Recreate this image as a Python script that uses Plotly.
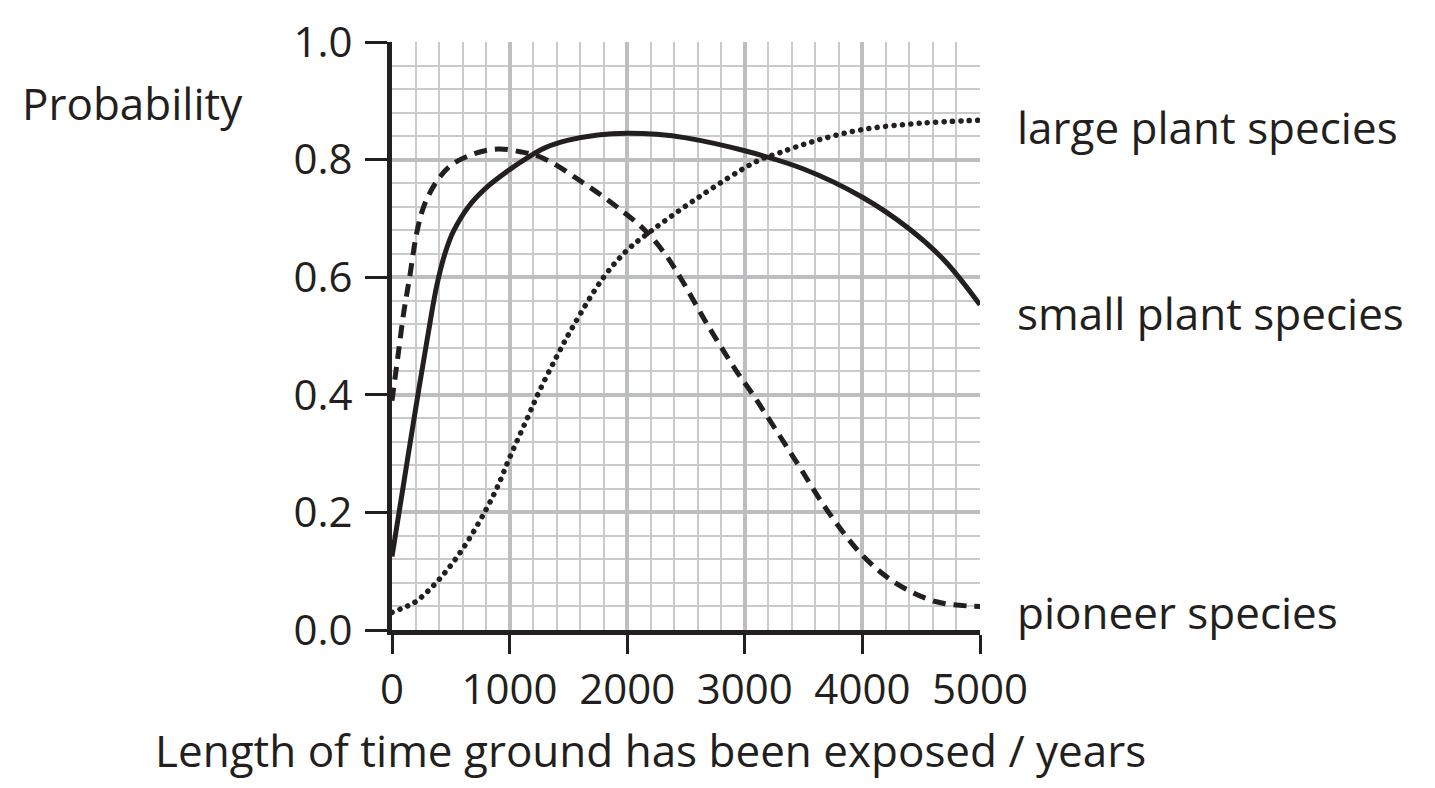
import plotly.graph_objects as go

# ---- data ----
years_small = [0, 100, 200, 300, 380, 450, 520, 650, 800, 1000, 1150, 1300, 1500, 1750, 2000, 2250, 2500, 3000, 3500, 4000, 4400, 4700, 5000]
prob_small = [0.125, 0.25, 0.375, 0.495, 0.585, 0.64, 0.677, 0.72, 0.752, 0.783, 0.803, 0.82, 0.833, 0.842, 0.845, 0.843, 0.837, 0.815, 0.784, 0.736, 0.682, 0.628, 0.553]

years_pioneer = [0, 50, 100, 150, 210, 270, 370, 500, 700, 900, 1100, 1290, 1630, 1910, 2150, 2320, 2450, 2680, 2930, 3070, 3410, 3720, 4010, 4290, 4630, 5000]
prob_pioneer = [0.39, 0.465, 0.54, 0.60, 0.675, 0.72, 0.76, 0.79, 0.81, 0.818, 0.813, 0.802, 0.76, 0.72, 0.68, 0.64, 0.60, 0.52, 0.44, 0.40, 0.295, 0.198, 0.125, 0.079, 0.048, 0.04]

years_large = [0, 100, 200, 350, 500, 650, 800, 900, 1000, 1150, 1250, 1400, 1550, 1800, 2000, 2200, 2600, 3100, 3300, 3600, 4000, 4500, 5000]
prob_large = [0.03, 0.038, 0.048, 0.075, 0.11, 0.153, 0.205, 0.245, 0.293, 0.36, 0.405, 0.465, 0.52, 0.60, 0.646, 0.678, 0.735, 0.797, 0.812, 0.832, 0.851, 0.862, 0.867]

series_labels = ["large plant species", "small plant species", "pioneer species"]
label_y = [0.855, 0.539, 0.031]

x_ticks = [0, 1000, 2000, 3000, 4000, 5000]
y_ticks = [0.0, 0.2, 0.4, 0.6, 0.8, 1.0]
y_tick_text = ["0.0", "0.2", "0.4", "0.6", "0.8", "1.0"]

INK = "#231f20"
FONT = "Open Sans"
FS = 44
TFS = 42

fig = go.Figure()
fig.add_trace(go.Scatter(x=years_large, y=prob_large, mode="lines",
                         line=dict(color=INK, width=5.5, dash="5px,3px", shape="spline", smoothing=1.0),
                         name=series_labels[0], showlegend=False))
fig.add_trace(go.Scatter(x=years_small, y=prob_small, mode="lines",
                         line=dict(color=INK, width=5, shape="spline", smoothing=1.0),
                         name=series_labels[1], showlegend=False))
fig.add_trace(go.Scatter(x=years_pioneer, y=prob_pioneer, mode="lines",
                         line=dict(color=INK, width=5, dash="13px,8px", shape="spline", smoothing=1.0),
                         name=series_labels[2], showlegend=False))

fig.update_xaxes(range=[0, 5000], tickvals=x_ticks, ticktext=[str(v) for v in x_ticks],
                 showline=True, linecolor=INK, linewidth=5,
                 ticks="outside", ticklen=19, tickwidth=2.5, tickcolor=INK,
                 showgrid=True, gridcolor="#bdbec0", gridwidth=4,
                 minor=dict(dtick=200, showgrid=True, gridcolor="#c9cacc", gridwidth=2),
                 zeroline=False, tickfont=dict(family=FONT, size=TFS, color=INK))
fig.update_yaxes(range=[0, 1.0], tickvals=y_ticks, ticktext=y_tick_text,
                 showline=True, linecolor=INK, linewidth=5,
                 ticks="outside", ticklen=22, tickwidth=2.5, tickcolor=INK,
                 showgrid=True, gridcolor="#bdbec0", gridwidth=4,
                 minor=dict(dtick=0.04, showgrid=True, gridcolor="#c9cacc", gridwidth=2),
                 zeroline=False, tickfont=dict(family=FONT, size=TFS, color=INK),
                 ticklabelstandoff=4)

annots = [
    dict(text="Probability", x=(20 - 392) / 588, y=(630 - 103) / 588, xanchor="left", yanchor="middle"),
    dict(text="Length of time ground has been exposed / years", x=(650 - 392) / 588, y=(630 - 750) / 588,
         xanchor="center", yanchor="middle"),
]
for t, yy in zip(series_labels, label_y):
    annots.append(dict(text=t, x=(1015 - 392) / 588, y=yy, xanchor="left", yanchor="middle"))
for a in annots:
    a.update(xref="paper", yref="paper", showarrow=False, font=dict(family=FONT, size=FS, color=INK))
    fig.add_annotation(**a)

fig.update_layout(width=1435, height=788, autosize=False,
                  margin=dict(l=392, r=455, t=42, b=158),
                  paper_bgcolor="white", plot_bgcolor="white")

# make the dotted line use round dots
post = """
(function(){
  var gd = document.getElementById('{plot_id}');
  function fix(){
    var tr = gd.querySelectorAll('.scatterlayer .trace');
    if (!tr.length) return;
    var p = tr[0].querySelector('path.js-line');
    if (p) { p.style.strokeLinecap = 'round'; p.style.strokeDasharray = '0.1px,8.3px'; }
  }
  fix();
  if (gd.on) gd.on('plotly_afterplot', fix);
})();
"""
fig.write_html("out.html", post_script=post)
